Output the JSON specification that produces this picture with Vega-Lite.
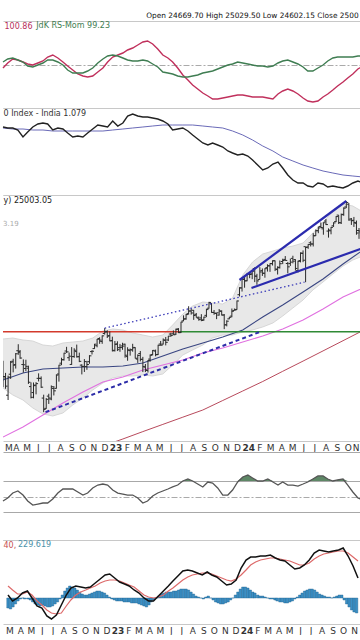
{
"$schema": "https://vega.github.io/schema/vega-lite/v6.json",
"padding": {"top": 11, "left": 0, "right": 0, "bottom": 0},
"spacing": 0,
"background": "white",
"config": {"view": {"stroke": null}, "font": "DejaVu Sans", "axis": {"minExtent": 0, "labelFont": "DejaVu Sans", "titleFont": "DejaVu Sans"}, "title": {"font": "DejaVu Sans"}},
"title": {"text": "Open 24669.70 High 25029.50 Low 24602.15 Close 2500", "anchor": "start", "dx": 146, "fontSize": 7.4, "fontWeight": "normal", "color": "#111", "offset": 2},
"resolve": {"scale": {"x": "independent", "y": "independent"}},
"datasets": {
"w": [
{"d":"2022-02-25","o":17339,"h":17351,"l":16203,"c":16658,"hi":-200},
{"d":"2022-03-04","o":16593,"h":16815,"l":16134,"c":16245,"hi":-220},
{"d":"2022-03-11","o":15867,"h":16694,"l":15671,"c":16630,"hi":-180},
{"d":"2022-03-18","o":16757,"h":17345,"l":16555,"c":17287,"hi":-120},
{"d":"2022-03-25","o":17330,"h":17442,"l":16837,"c":17153,"hi":-60},
{"d":"2022-04-01","o":17181,"h":17703,"l":17004,"c":17670,"hi":-20},
{"d":"2022-04-08","o":17810,"h":18114,"l":17624,"c":17784,"hi":0},
{"d":"2022-04-13","o":17741,"h":17842,"l":17442,"c":17476,"hi":-20},
{"d":"2022-04-22","o":17183,"h":17414,"l":16824,"c":17172,"hi":-20},
{"d":"2022-04-29","o":17009,"h":17400,"l":16889,"c":17103,"hi":-40},
{"d":"2022-05-06","o":17022,"h":17132,"l":16340,"c":16411,"hi":-80},
{"d":"2022-05-13","o":16227,"h":16404,"l":15735,"c":15782,"hi":-120},
{"d":"2022-05-20","o":15977,"h":16400,"l":15739,"c":16266,"hi":-140},
{"d":"2022-05-27","o":16290,"h":16415,"l":15903,"c":16352,"hi":-160},
{"d":"2022-06-03","o":16578,"h":16794,"l":16444,"c":16584,"hi":-140},
{"d":"2022-06-10","o":16570,"h":16661,"l":16172,"c":16202,"hi":-160},
{"d":"2022-06-17","o":15750,"h":15888,"l":15183,"c":15293,"hi":-180},
{"d":"2022-06-24","o":15334,"h":15749,"l":15315,"c":15699,"hi":-180},
{"d":"2022-07-01","o":15830,"h":15927,"l":15511,"c":15752,"hi":-160},
{"d":"2022-07-08","o":15710,"h":16275,"l":15661,"c":16221,"hi":-120},
{"d":"2022-07-15","o":16150,"h":16249,"l":15858,"c":16049,"hi":-80},
{"d":"2022-07-22","o":16152,"h":16752,"l":16142,"c":16719,"hi":-20},
{"d":"2022-07-29","o":16766,"h":17172,"l":16438,"c":17158,"hi":60},
{"d":"2022-08-05","o":17244,"h":17490,"l":17154,"c":17397,"hi":140},
{"d":"2022-08-12","o":17402,"h":17719,"l":17359,"c":17698,"hi":200},
{"d":"2022-08-19","o":17797,"h":17992,"l":17710,"c":17758,"hi":240},
{"d":"2022-08-26","o":17491,"h":17726,"l":17345,"c":17559,"hi":220},
{"d":"2022-09-02","o":17188,"h":17980,"l":17167,"c":17539,"hi":200},
{"d":"2022-09-09","o":17546,"h":17925,"l":17487,"c":17833,"hi":160},
{"d":"2022-09-16","o":17771,"h":18096,"l":17497,"c":17531,"hi":120},
{"d":"2022-09-23","o":17540,"h":17722,"l":17291,"c":17327,"hi":80},
{"d":"2022-09-30","o":17157,"h":17196,"l":16748,"c":17094,"hi":60},
{"d":"2022-10-07","o":17102,"h":17428,"l":16855,"c":17315,"hi":60},
{"d":"2022-10-14","o":17094,"h":17348,"l":16950,"c":17186,"hi":80},
{"d":"2022-10-21","o":17312,"h":17607,"l":17218,"c":17576,"hi":100},
{"d":"2022-10-28","o":17771,"h":17838,"l":17637,"c":17787,"hi":120},
{"d":"2022-11-04","o":17910,"h":18130,"l":17900,"c":18117,"hi":140},
{"d":"2022-11-11","o":18044,"h":18362,"l":17969,"c":18350,"hi":140},
{"d":"2022-11-18","o":18386,"h":18443,"l":18133,"c":18308,"hi":120},
{"d":"2022-11-25","o":18246,"h":18534,"l":18133,"c":18512,"hi":100},
{"d":"2022-12-02","o":18625,"h":18888,"l":18572,"c":18697,"hi":60},
{"d":"2022-12-09","o":18719,"h":18781,"l":18410,"c":18497,"hi":20},
{"d":"2022-12-16","o":18524,"h":18728,"l":18255,"c":18270,"hi":-20},
{"d":"2022-12-23","o":18288,"h":18473,"l":17779,"c":17807,"hi":-40},
{"d":"2022-12-30","o":17831,"h":18265,"l":17774,"c":18105,"hi":-60},
{"d":"2023-01-06","o":18131,"h":18252,"l":17796,"c":17859,"hi":-60},
{"d":"2023-01-13","o":17953,"h":18127,"l":17761,"c":17957,"hi":-60},
{"d":"2023-01-20","o":18033,"h":18183,"l":17853,"c":18027,"hi":-80},
{"d":"2023-01-27","o":18115,"h":18142,"l":17493,"c":17604,"hi":-80},
{"d":"2023-02-03","o":17541,"h":17972,"l":17353,"c":17854,"hi":-80},
{"d":"2023-02-10","o":17818,"h":17916,"l":17584,"c":17856,"hi":-100},
{"d":"2023-02-17","o":17848,"h":18134,"l":17765,"c":17944,"hi":-100},
{"d":"2023-02-24","o":17965,"h":17972,"l":17455,"c":17466,"hi":-100},
{"d":"2023-03-03","o":17428,"h":17644,"l":17255,"c":17594,"hi":-120},
{"d":"2023-03-10","o":17680,"h":17799,"l":17325,"c":17413,"hi":-140},
{"d":"2023-03-17","o":17421,"h":17529,"l":16850,"c":17100,"hi":-160},
{"d":"2023-03-24","o":17067,"h":17207,"l":16850,"c":16945,"hi":-180},
{"d":"2023-03-31","o":16919,"h":17381,"l":16828,"c":17360,"hi":-140},
{"d":"2023-04-06","o":17427,"h":17638,"l":17312,"c":17600,"hi":-80},
{"d":"2023-04-13","o":17634,"h":17843,"l":17597,"c":17828,"hi":-40},
{"d":"2023-04-21","o":17794,"h":17863,"l":17554,"c":17624,"hi":0},
{"d":"2023-04-28","o":17639,"h":18089,"l":17612,"c":18065,"hi":40},
{"d":"2023-05-05","o":18124,"h":18267,"l":18042,"c":18069,"hi":80},
{"d":"2023-05-12","o":18120,"h":18389,"l":18100,"c":18315,"hi":100},
{"d":"2023-05-19","o":18300,"h":18458,"l":18060,"c":18203,"hi":120},
{"d":"2023-05-26","o":18315,"h":18508,"l":18262,"c":18499,"hi":120},
{"d":"2023-06-02","o":18600,"h":18662,"l":18463,"c":18534,"hi":120},
{"d":"2023-06-09","o":18612,"h":18777,"l":18555,"c":18563,"hi":140},
{"d":"2023-06-16","o":18596,"h":18864,"l":18557,"c":18826,"hi":140},
{"d":"2023-06-23","o":18849,"h":18887,"l":18647,"c":18665,"hi":160},
{"d":"2023-06-30","o":18683,"h":19201,"l":18647,"c":19189,"hi":180},
{"d":"2023-07-07","o":19246,"h":19524,"l":19231,"c":19332,"hi":180},
{"d":"2023-07-14","o":19355,"h":19596,"l":19300,"c":19564,"hi":180},
{"d":"2023-07-21","o":19613,"h":19992,"l":19563,"c":19745,"hi":160},
{"d":"2023-07-28","o":19748,"h":19868,"l":19563,"c":19646,"hi":120},
{"d":"2023-08-04","o":19784,"h":19796,"l":19296,"c":19517,"hi":80},
{"d":"2023-08-11","o":19576,"h":19646,"l":19413,"c":19428,"hi":40},
{"d":"2023-08-18","o":19384,"h":19466,"l":19254,"c":19310,"hi":20},
{"d":"2023-08-25","o":19394,"h":19585,"l":19230,"c":19266,"hi":0},
{"d":"2023-09-01","o":19299,"h":19458,"l":19255,"c":19435,"hi":-20},
{"d":"2023-09-08","o":19525,"h":19867,"l":19433,"c":19820,"hi":20},
{"d":"2023-09-15","o":19890,"h":20222,"l":19866,"c":20192,"hi":40},
{"d":"2023-09-22","o":20120,"h":20156,"l":19657,"c":19674,"hi":0},
{"d":"2023-09-29","o":19674,"h":19798,"l":19554,"c":19638,"hi":-40},
{"d":"2023-10-06","o":19622,"h":19661,"l":19333,"c":19654,"hi":-80},
{"d":"2023-10-13","o":19539,"h":19849,"l":19513,"c":19751,"hi":-100},
{"d":"2023-10-20","o":19731,"h":19781,"l":19518,"c":19542,"hi":-120},
{"d":"2023-10-27","o":19542,"h":19593,"l":18838,"c":19047,"hi":-120},
{"d":"2023-11-03","o":19053,"h":19276,"l":18974,"c":19231,"hi":-100},
{"d":"2023-11-10","o":19347,"h":19451,"l":19329,"c":19425,"hi":-80},
{"d":"2023-11-17","o":19486,"h":19875,"l":19430,"c":19732,"hi":-40},
{"d":"2023-11-24","o":19770,"h":19876,"l":19768,"c":19795,"hi":0},
{"d":"2023-12-01","o":19828,"h":20292,"l":19810,"c":20268,"hi":60},
{"d":"2023-12-08","o":20601,"h":21006,"l":20508,"c":20970,"hi":120},
{"d":"2023-12-15","o":20965,"h":21493,"l":20770,"c":21457,"hi":180},
{"d":"2023-12-22","o":21434,"h":21593,"l":20977,"c":21349,"hi":220},
{"d":"2023-12-29","o":21365,"h":21801,"l":21330,"c":21731,"hi":220},
{"d":"2024-01-05","o":21727,"h":21834,"l":21501,"c":21711,"hi":200},
{"d":"2024-01-12","o":21748,"h":21928,"l":21449,"c":21895,"hi":160},
{"d":"2024-01-19","o":22053,"h":22124,"l":21286,"c":21622,"hi":120},
{"d":"2024-01-25","o":21615,"h":21750,"l":21137,"c":21353,"hi":100},
{"d":"2024-02-02","o":21433,"h":22127,"l":21429,"c":21854,"hi":60},
{"d":"2024-02-09","o":21930,"h":22054,"l":21630,"c":21783,"hi":40},
{"d":"2024-02-16","o":21780,"h":22069,"l":21530,"c":22041,"hi":40},
{"d":"2024-02-23","o":22103,"h":22297,"l":21875,"c":22213,"hi":20},
{"d":"2024-03-01","o":22200,"h":22353,"l":21861,"c":22339,"hi":0},
{"d":"2024-03-08","o":22326,"h":22526,"l":22224,"c":22494,"hi":-20},
{"d":"2024-03-15","o":22500,"h":22516,"l":21905,"c":22023,"hi":-20},
{"d":"2024-03-22","o":21990,"h":22180,"l":21710,"c":22097,"hi":-40},
{"d":"2024-03-28","o":22122,"h":22516,"l":22048,"c":22327,"hi":-60},
{"d":"2024-04-05","o":22455,"h":22619,"l":22304,"c":22514,"hi":-80},
{"d":"2024-04-12","o":22578,"h":22776,"l":22503,"c":22519,"hi":-80},
{"d":"2024-04-19","o":22339,"h":22428,"l":21777,"c":22147,"hi":-100},
{"d":"2024-04-26","o":22336,"h":22625,"l":22198,"c":22420,"hi":-100},
{"d":"2024-05-03","o":22640,"h":22794,"l":22349,"c":22476,"hi":-80},
{"d":"2024-05-10","o":22570,"h":22588,"l":21932,"c":22055,"hi":-60},
{"d":"2024-05-17","o":21931,"h":22502,"l":21822,"c":22466,"hi":-20},
{"d":"2024-05-24","o":22512,"h":22994,"l":22404,"c":22957,"hi":20},
{"d":"2024-05-31","o":22933,"h":23111,"l":22418,"c":22531,"hi":60},
{"d":"2024-06-07","o":23338,"h":23339,"l":21281,"c":23290,"hi":100},
{"d":"2024-06-14","o":23320,"h":23490,"l":23207,"c":23466,"hi":140},
{"d":"2024-06-21","o":23574,"h":23667,"l":23351,"c":23501,"hi":160},
{"d":"2024-06-28","o":23501,"h":24174,"l":23350,"c":24011,"hi":180},
{"d":"2024-07-05","o":24010,"h":24401,"l":23992,"c":24324,"hi":180},
{"d":"2024-07-12","o":24329,"h":24592,"l":24168,"c":24502,"hi":160},
{"d":"2024-07-19","o":24587,"h":24854,"l":24508,"c":24531,"hi":120},
{"d":"2024-07-26","o":24445,"h":24861,"l":24074,"c":24835,"hi":80},
{"d":"2024-08-02","o":24943,"h":25078,"l":24686,"c":24718,"hi":60},
{"d":"2024-08-09","o":24303,"h":24473,"l":23894,"c":24368,"hi":40},
{"d":"2024-08-16","o":24320,"h":24564,"l":24100,"c":24541,"hi":20},
{"d":"2024-08-23","o":24636,"h":24868,"l":24564,"c":24823,"hi":20},
{"d":"2024-08-30","o":24907,"h":25268,"l":24874,"c":25236,"hi":0},
{"d":"2024-09-06","o":25333,"h":25333,"l":24753,"c":24852,"hi":20},
{"d":"2024-09-13","o":24823,"h":25434,"l":24753,"c":25357,"hi":40},
{"d":"2024-09-20","o":25384,"h":25850,"l":25286,"c":25791,"hi":60},
{"d":"2024-09-27","o":25872,"h":26277,"l":25794,"c":26179,"hi":60},
{"d":"2024-10-04","o":26061,"h":26135,"l":24966,"c":25015,"hi":-40},
{"d":"2024-10-11","o":25085,"h":25143,"l":24694,"c":24964,"hi":-120},
{"d":"2024-10-18","o":24992,"h":25212,"l":24567,"c":24854,"hi":-180},
{"d":"2024-10-25","o":24798,"h":24978,"l":24073,"c":24181,"hi":-240},
{"d":"2024-11-01","o":24339,"h":24498,"l":23817,"c":24304,"hi":-280},
{"d":"2024-11-08","o":24200,"h":24538,"l":23996,"c":24148,"hi":-300}
],
"ind": [
{"d":"2022-02-25","rs":99.7,"mo":100.3,"ra":1.304,"rm":1.3,"rsi":44.2,"m":60,"s":240,"bu":18362,"bl":16167,"m1":16507,"m2":14235},
{"d":"2022-03-10","rs":100.2,"mo":100.6,"ra":1.3,"rsi":48.1,"m":-60,"s":160},
{"d":"2022-03-24","rs":100.6,"mo":100.7,"ra":1.3,"rm":1.296,"rsi":54.5,"m":0,"s":80,"bu":18409,"bl":15876},
{"d":"2022-04-07","rs":100.5,"mo":100.5,"ra":1.292,"rsi":57.1,"m":100,"s":80},
{"d":"2022-04-21","rs":100.3,"mo":100.3,"ra":1.264,"rm":1.296,"rsi":51.9,"m":140,"s":120,"bu":18314,"bl":15671,"m1":16810,"m2":14610},
{"d":"2022-05-04","rs":100.1,"mo":99.9,"ra":1.284,"rsi":44.2,"m":0,"s":60},
{"d":"2022-05-18","rs":100,"mo":99.8,"ra":1.304,"rm":1.292,"rsi":39,"m":-160,"s":-60,"bu":18267,"bl":15349},
{"d":"2022-06-01","rs":100.2,"mo":100,"ra":1.316,"rsi":40.3,"m":-200,"s":-140},
{"d":"2022-06-15","rs":100.4,"mo":100.2,"ra":1.32,"rm":1.292,"rsi":41.6,"m":-360,"s":-240,"bu":18077,"bl":15112,"m1":16985,"m2":15072},
{"d":"2022-06-28","rs":100.8,"mo":100.5,"ra":1.316,"rsi":41.6,"m":-420,"s":-300},
{"d":"2022-07-12","rs":101,"mo":100.5,"ra":1.292,"rm":1.288,"rsi":46.8,"m":-340,"s":-320,"bu":18030,"bl":15033},
{"d":"2022-07-26","rs":100.7,"mo":100.3,"ra":1.3,"rsi":54.5,"m":-140,"s":-300},
{"d":"2022-08-09","rs":100.3,"mo":100,"ra":1.296,"rm":1.288,"rsi":59.7,"m":60,"s":-160,"bu":18172,"bl":15151,"m1":17030,"m2":15550},
{"d":"2022-08-22","rs":99.9,"mo":99.5,"ra":1.28,"rsi":59.7,"m":200,"s":-40},
{"d":"2022-09-05","rs":99.5,"mo":99.2,"ra":1.264,"rm":1.288,"rsi":59.7,"m":240,"s":60,"bu":18219,"bl":15469},
{"d":"2022-09-19","rs":99.1,"mo":99.2,"ra":1.268,"rsi":55.8,"m":220,"s":120},
{"d":"2022-10-03","rs":98.9,"mo":99.2,"ra":1.264,"rm":1.288,"rsi":51.9,"m":200,"s":160,"bu":18267,"bl":15753,"m1":17074,"m2":16000},
{"d":"2022-10-16","rs":98.8,"mo":99.4,"ra":1.28,"rsi":54.5,"m":220,"s":200},
{"d":"2022-10-30","rs":98.9,"mo":99.7,"ra":1.296,"rm":1.288,"rsi":61,"m":300,"s":240,"bu":18409,"bl":16083},
{"d":"2022-11-13","rs":99.3,"mo":100.2,"ra":1.312,"rsi":64.8,"m":380,"s":300},
{"d":"2022-11-27","rs":99.7,"mo":100.6,"ra":1.308,"rm":1.288,"rsi":66.1,"m":460,"s":340,"bu":18747,"bl":16379,"m1":17074,"m2":16422,"m3":13906},
{"d":"2022-12-10","rs":100.3,"mo":100.9,"ra":1.304,"rsi":64.8,"m":480,"s":360},
{"d":"2022-12-24","rs":100.8,"mo":101,"ra":1.328,"rm":1.292,"rsi":58.4,"m":400,"s":360,"bu":18845,"bl":16593},
{"d":"2023-01-07","rs":101,"mo":100.9,"ra":1.308,"rsi":54.5,"m":320,"s":340},
{"d":"2023-01-21","rs":101.2,"mo":100.7,"ra":1.32,"rm":1.296,"rsi":53.2,"m":280,"s":300,"bu":18796,"bl":16679,"m1":17119,"m2":16636,"m3":14162},
{"d":"2023-02-03","rs":101.5,"mo":100.5,"ra":1.348,"rsi":51.9,"m":240,"s":260},
{"d":"2023-02-17","rs":101.7,"mo":100.4,"ra":1.356,"rm":1.3,"rsi":51.9,"m":160,"s":220,"bu":18650,"bl":16679},
{"d":"2023-03-03","rs":102,"mo":100.4,"ra":1.348,"rsi":48.1,"m":100,"s":140},
{"d":"2023-03-17","rs":102.3,"mo":100.5,"ra":1.344,"rm":1.304,"rsi":41.6,"m":0,"s":60,"bu":18553,"bl":16722,"m1":17253,"m2":16941,"m3":14436},
{"d":"2023-03-30","rs":102.4,"mo":100.4,"ra":1.344,"rsi":44.2,"m":-60,"s":20},
{"d":"2023-04-13","rs":102.1,"mo":100.1,"ra":1.34,"rm":1.308,"rsi":50.6,"m":-60,"s":0,"bu":18457,"bl":16679},
{"d":"2023-04-27","rs":101.6,"mo":99.8,"ra":1.336,"rsi":54.5,"m":40,"s":20},
{"d":"2023-05-11","rs":101,"mo":99.3,"ra":1.328,"rm":1.312,"rsi":57.1,"m":140,"s":60,"bu":18553,"bl":16766,"m1":17568,"m2":17163,"m3":14709},
{"d":"2023-05-25","rs":100.7,"mo":99.2,"ra":1.316,"rsi":59.7,"m":240,"s":140},
{"d":"2023-06-07","rs":100.3,"mo":99.1,"ra":1.292,"rm":1.312,"rsi":62.3,"m":340,"s":200,"bu":19041,"bl":17163},
{"d":"2023-06-21","rs":99.7,"mo":98.9,"ra":1.296,"rsi":64.8,"m":440,"s":280},
{"d":"2023-07-05","rs":99,"mo":98.8,"ra":1.3,"rm":1.312,"rsi":70,"m":540,"s":360,"bu":19593,"bl":17614,"m1":17891,"m2":17387,"m3":14987},
{"d":"2023-07-19","rs":98.5,"mo":98.8,"ra":1.288,"rsi":72.6,"m":560,"s":420},
{"d":"2023-08-01","rs":98,"mo":98.9,"ra":1.272,"rm":1.312,"rsi":70,"m":540,"s":460,"bu":20005,"bl":17844},
{"d":"2023-08-15","rs":97.6,"mo":99,"ra":1.256,"rsi":66.1,"m":500,"s":480},
{"d":"2023-08-29","rs":97.2,"mo":99.2,"ra":1.24,"rm":1.308,"rsi":62.3,"m":460,"s":500,"bu":20214,"bl":18077,"m1":18172,"m2":17706,"m3":15269},
{"d":"2023-09-12","rs":96.9,"mo":99.3,"ra":1.232,"rsi":68.7,"m":520,"s":500},
{"d":"2023-09-25","rs":96.6,"mo":99.4,"ra":1.24,"rm":1.304,"rsi":67.4,"m":460,"s":480,"bu":20162,"bl":18409},
{"d":"2023-10-09","rs":96.6,"mo":99.6,"ra":1.232,"rsi":61,"m":420,"s":440},
{"d":"2023-10-23","rs":96.7,"mo":99.8,"ra":1.224,"rm":1.3,"rsi":51.9,"m":340,"s":400,"bu":20110,"bl":18553,"m1":18457,"m2":17937,"m3":15651},
{"d":"2023-11-06","rs":96.8,"mo":100,"ra":1.208,"rsi":51.9,"m":260,"s":360},
{"d":"2023-11-19","rs":96.9,"mo":100.1,"ra":1.2,"rm":1.288,"rsi":58.4,"m":280,"s":340,"bu":20425,"bl":18553},
{"d":"2023-12-03","rs":97,"mo":100.3,"ra":1.192,"rsi":68.7,"m":360,"s":380},
{"d":"2023-12-17","rs":97,"mo":100.2,"ra":1.196,"rm":1.272,"rsi":75.2,"m":600,"s":460,"bu":21682,"bl":18699,"m1":18796,"m2":18219,"m3":16042},
{"d":"2023-12-31","rs":96.9,"mo":100.1,"ra":1.188,"rsi":77.7,"m":760,"s":560},
{"d":"2024-01-13","rs":96.8,"mo":100,"ra":1.172,"rm":1.252,"rsi":73.9,"m":820,"s":660,"bu":22428,"bl":18796},
{"d":"2024-01-27","rs":96.8,"mo":99.9,"ra":1.152,"rsi":70,"m":820,"s":720},
{"d":"2024-02-10","rs":96.8,"mo":99.9,"ra":1.132,"rm":1.228,"rsi":70,"m":840,"s":760,"bu":22898,"bl":18943,"m1":19441,"m2":18505,"m3":16443},
{"d":"2024-02-24","rs":96.7,"mo":99.8,"ra":1.14,"rsi":72.6,"m":840,"s":780},
{"d":"2024-03-09","rs":96.6,"mo":99.9,"ra":1.156,"rm":1.208,"rsi":68.7,"m":860,"s":800,"bu":23077,"bl":19141},
{"d":"2024-03-23","rs":97.1,"mo":100.2,"ra":1.164,"rsi":64.8,"m":800,"s":800},
{"d":"2024-04-05","rs":97.4,"mo":100.4,"ra":1.14,"rm":1.184,"rsi":68.7,"m":760,"s":780,"bu":23257,"bl":19492,"m1":20057,"m2":18845,"m3":16884},
{"d":"2024-04-19","rs":97.6,"mo":100.5,"ra":1.112,"rsi":64.8,"m":740,"s":760},
{"d":"2024-05-03","rs":97.4,"mo":100.3,"ra":1.092,"rm":1.168,"rsi":64.8,"m":660,"s":740,"bu":23378,"bl":19902},
{"d":"2024-05-17","rs":97.1,"mo":100.1,"ra":1.08,"rsi":63.5,"m":580,"s":700},
{"d":"2024-05-31","rs":96.7,"mo":99.8,"ra":1.08,"rm":1.152,"rsi":66.1,"m":600,"s":660,"bu":23561,"bl":20319,"m1":20746,"m2":19290,"m3":17338},
{"d":"2024-06-13","rs":96.4,"mo":99.4,"ra":1.068,"rsi":68.7,"m":660,"s":660},
{"d":"2024-06-27","rs":96.3,"mo":99.4,"ra":1.064,"rm":1.14,"rsi":72.6,"m":760,"s":700,"bu":24182,"bl":20854},
{"d":"2024-07-11","rs":96.4,"mo":99.7,"ra":1.08,"rsi":76.5,"m":900,"s":780},
{"d":"2024-07-25","rs":96.8,"mo":100,"ra":1.076,"rm":1.128,"rsi":76.5,"m":960,"s":840,"bu":24883,"bl":21292,"m1":21458,"m2":19849,"m3":17803},
{"d":"2024-08-07","rs":97.1,"mo":100.4,"ra":1.064,"rsi":72.6,"m":940,"s":880},
{"d":"2024-08-21","rs":97.5,"mo":100.7,"ra":1.068,"rm":1.12,"rsi":70,"m":920,"s":900,"bu":25538,"bl":21739},
{"d":"2024-09-03","rs":97.9,"mo":100.8,"ra":1.064,"rsi":71.3,"m":940,"s":920},
{"d":"2024-09-18","rs":98.3,"mo":100.8,"ra":1.06,"rm":1.112,"rsi":72.6,"m":960,"s":940,"bu":26072,"bl":22196,"m1":22310,"m2":20479,"m3":18281},
{"d":"2024-10-01","rs":98.7,"mo":100.8,"ra":1.068,"rsi":64.8,"m":1000,"s":940},
{"d":"2024-10-15","rs":99.1,"mo":100.8,"ra":1.08,"rm":1.108,"rsi":55.8,"m":840,"s":900,"bu":25938,"bl":22544},
{"d":"2024-10-29","rs":99.6,"mo":100.9,"ra":1.088,"rsi":48.1,"m":640,"s":820},
{"d":"2024-11-12","rs":99.9,"mo":100.9,"ra":1.08,"rm":1.104,"rsi":45.5,"m":400,"s":740,"bu":25538,"bl":22779,"m1":23137,"m2":20963,"m3":18772}
],
"tl": [
{"k":"red","d":"2022-02-25","p1":18710,"d2":"2023-06-27","p2":18710},
{"k":"green","d":"2023-06-27","p1":18710,"d2":"2024-11-12","p2":18710},
{"k":"dot","d":"2022-12-02","p1":18888,"d2":"2024-06-04","p2":21281},
{"k":"dash","d":"2022-06-22","p1":15183,"d2":"2024-02-02","p2":18699},
{"k":"chan","d":"2023-12-08","p1":21402,"d2":"2024-09-27","p2":26277},
{"k":"chan","d":"2024-01-10","p1":20962,"d2":"2024-11-12","p2":23257}
]
},
"vconcat": [
{
"width": 360, "height": 87,
"data": {"name": "ind"},
"title": {"text": "JdK RS-Mom 99.23", "anchor": "start", "dx": 36, "offset": -9, "fontSize": 8, "fontWeight": "normal", "color": "#3f7d52"},
"encoding": {"x": {"field": "d", "type": "temporal", "scale": {"type": "utc", "domain": [{"year":2022,"month":2,"date":25,"utc":true},{"year":2024,"month":11,"date":12,"utc":true}]}, "axis": null}},
"resolve": {"scale": {"y": "independent"}},
"layer": [
{"mark": {"type": "line", "color": "#c0305c", "strokeWidth": 1.4}, "encoding": {"y": {"field": "rs", "type": "quantitative", "scale": {"domain": [95.7, 104.4]}, "axis": {"values": [95.7, 100, 104.4], "grid": true, "gridColor": {"condition": {"test": "datum.value == 100", "value": "#aaaaaa"}, "value": "#c8c8c8"}, "gridDash": {"condition": {"test": "datum.value == 100", "value": [6, 2, 2, 2]}, "value": []}, "labels": false, "ticks": false, "domain": false, "title": "100.86", "titleAngle": 0, "titleX": 1, "titleY": 5, "titleAlign": "left", "titleBaseline": "middle", "titleFontSize": 8, "titleFontWeight": "normal", "titleColor": "#b8305a"}}}},
{"mark": {"type": "line", "color": "#3f7d52", "strokeWidth": 1.4}, "encoding": {"y": {"field": "mo", "type": "quantitative", "scale": {"domain": [95.7, 104.4]}, "axis": null}}}
]
},
{
"width": 360, "height": 87,
"data": {"name": "ind"},
"encoding": {"x": {"field": "d", "type": "temporal", "scale": {"type": "utc", "domain": [{"year":2022,"month":2,"date":25,"utc":true},{"year":2024,"month":11,"date":12,"utc":true}]}, "axis": null}},
"resolve": {"scale": {"y": "independent"}},
"layer": [
{"transform": [{"filter": "isValid(datum.rm)"}], "mark": {"type": "line", "color": "#6a6ab8", "strokeWidth": 1}, "encoding": {"y": {"field": "rm", "type": "quantitative", "scale": {"domain": [1.032, 1.38]}, "axis": {"values": [1.032, 1.38], "grid": true, "gridColor": "#c8c8c8", "labels": false, "ticks": false, "domain": false, "title": "0 Index - India 1.079", "titleAngle": 0, "titleX": 0, "titleY": 5, "titleAlign": "left", "titleBaseline": "middle", "titleFontSize": 8, "titleFontWeight": "normal", "titleColor": "#333"}}}},
{"mark": {"type": "line", "color": "#222", "strokeWidth": 1.4}, "encoding": {"y": {"field": "ra", "type": "quantitative", "scale": {"domain": [1.032, 1.38]}, "axis": null}}}
]
},
{
"width": 360, "height": 246,
"title": {"text": "3.19", "anchor": "start", "offset": -32, "fontSize": 7, "fontWeight": "normal", "color": "#aaaaaa"},
"encoding": {"x": {"field": "d", "type": "temporal", "scale": {"type": "utc", "domain": [{"year":2022,"month":2,"date":25,"utc":true},{"year":2024,"month":11,"date":12,"utc":true}]}, "axis": {"orient": "bottom", "ticks": false, "domain": false, "grid": false, "labelPadding": 2, "labelFontSize": 9, "labelColor": "#333", "labelOverlap": false, "labelBound": false, "labelFlush": 5, "title": null, "tickCount": {"interval": "month", "step": 1}, "labelExpr": "utcFormat(datum.value, '%m') == '01' ? utcFormat(datum.value, '%y') : slice(utcFormat(datum.value, '%b'), 0, 1)", "labelFontWeight": {"condition": {"test": "utcFormat(datum.value, '%m') == '01'", "value": "bold"}, "value": "normal"}}}},
"resolve": {"scale": {"y": "independent"}},
"layer": [
{"data": {"name": "ind"}, "transform": [{"filter": "isValid(datum.bu)"}], "mark": {"type": "area", "color": "#e8e8e8", "clip": true}, "encoding": {"y": {"field": "bl", "type": "quantitative", "scale": {"type": "log", "domain": [14088, 26690]}, "axis": {"values": [14088, 26690], "grid": true, "gridColor": "#c8c8c8", "labels": false, "ticks": false, "domain": false, "title": "y) 25003.05", "titleAngle": 0, "titleX": 0, "titleY": 5, "titleAlign": "left", "titleBaseline": "middle", "titleFontSize": 8, "titleFontWeight": "normal", "titleColor": "#222"}}, "y2": {"field": "bu"}}},
{"data": {"name": "ind"}, "transform": [{"filter": "isValid(datum.bu)"}], "mark": {"type": "line", "color": "#cfcfcf", "strokeWidth": 0.8, "clip": true}, "encoding": {"y": {"field": "bu", "type": "quantitative", "scale": {"type": "log", "domain": [14088, 26690]}, "axis": null}}},
{"data": {"name": "ind"}, "transform": [{"filter": "isValid(datum.bl)"}], "mark": {"type": "line", "color": "#cfcfcf", "strokeWidth": 0.8, "clip": true}, "encoding": {"y": {"field": "bl", "type": "quantitative", "scale": {"type": "log", "domain": [14088, 26690]}, "axis": null}}},
{"data": {"name": "ind"}, "transform": [{"filter": "isValid(datum.m3)"}], "mark": {"type": "line", "color": "#b84a5c", "strokeWidth": 1, "clip": true}, "encoding": {"y": {"field": "m3", "type": "quantitative", "scale": {"type": "log", "domain": [14088, 26690]}, "axis": null}}},
{"data": {"name": "ind"}, "transform": [{"filter": "isValid(datum.m2)"}], "mark": {"type": "line", "color": "#e070e0", "strokeWidth": 1.1, "clip": true}, "encoding": {"y": {"field": "m2", "type": "quantitative", "scale": {"type": "log", "domain": [14088, 26690]}, "axis": null}}},
{"data": {"name": "ind"}, "transform": [{"filter": "isValid(datum.m1)"}], "mark": {"type": "line", "color": "#3a4682", "strokeWidth": 1.1, "clip": true}, "encoding": {"y": {"field": "m1", "type": "quantitative", "scale": {"type": "log", "domain": [14088, 26690]}, "axis": null}}},
{"data": {"name": "tl"}, "transform": [{"filter": "datum.k == 'red'"}], "mark": {"type": "rule", "color": "#d33a2c", "strokeWidth": 1.6, "clip": true}, "encoding": {"x2": {"field": "d2"}, "y": {"field": "p1", "type": "quantitative", "scale": {"type": "log", "domain": [14088, 26690]}, "axis": null}, "y2": {"field": "p2"}}},
{"data": {"name": "tl"}, "transform": [{"filter": "datum.k == 'green'"}], "mark": {"type": "rule", "color": "#2f8a35", "strokeWidth": 1.6, "clip": true}, "encoding": {"x2": {"field": "d2"}, "y": {"field": "p1", "type": "quantitative", "scale": {"type": "log", "domain": [14088, 26690]}, "axis": null}, "y2": {"field": "p2"}}},
{"data": {"name": "w"}, "mark": {"type": "rule", "color": "#2a2a2a", "strokeWidth": 1, "clip": true}, "encoding": {"y": {"field": "l", "type": "quantitative", "scale": {"type": "log", "domain": [14088, 26690]}, "axis": null}, "y2": {"field": "h"}}},
{"data": {"name": "w"}, "mark": {"type": "tick", "orient": "horizontal", "size": 2, "thickness": 1, "xOffset": -1, "color": "#2a2a2a", "opacity": 1, "clip": true}, "encoding": {"y": {"field": "o", "type": "quantitative", "scale": {"type": "log", "domain": [14088, 26690]}, "axis": null}}},
{"data": {"name": "w"}, "mark": {"type": "tick", "orient": "horizontal", "size": 2, "thickness": 1, "xOffset": 1, "color": "#2a2a2a", "opacity": 1, "clip": true}, "encoding": {"y": {"field": "c", "type": "quantitative", "scale": {"type": "log", "domain": [14088, 26690]}, "axis": null}}},
{"data": {"name": "tl"}, "transform": [{"filter": "datum.k == 'dot'"}], "mark": {"type": "rule", "color": "#3a3ab8", "strokeWidth": 1.3, "strokeDash": [1.5, 2.5], "clip": true}, "encoding": {"x2": {"field": "d2"}, "y": {"field": "p1", "type": "quantitative", "scale": {"type": "log", "domain": [14088, 26690]}, "axis": null}, "y2": {"field": "p2"}}},
{"data": {"name": "tl"}, "transform": [{"filter": "datum.k == 'dash'"}], "mark": {"type": "rule", "color": "#2d2da8", "strokeWidth": 2, "strokeDash": [4, 3], "clip": true}, "encoding": {"x2": {"field": "d2"}, "y": {"field": "p1", "type": "quantitative", "scale": {"type": "log", "domain": [14088, 26690]}, "axis": null}, "y2": {"field": "p2"}}},
{"data": {"name": "tl"}, "transform": [{"filter": "datum.k == 'chan'"}], "mark": {"type": "rule", "color": "#2b2bae", "strokeWidth": 2.2, "clip": true}, "encoding": {"x2": {"field": "d2"}, "y": {"field": "p1", "type": "quantitative", "scale": {"type": "log", "domain": [14088, 26690]}, "axis": null}, "y2": {"field": "p2"}}}
]
},
{
"width": 360, "height": 88,
"data": {"name": "ind"},
"encoding": {"x": {"field": "d", "type": "temporal", "scale": {"type": "utc", "domain": [{"year":2022,"month":2,"date":25,"utc":true},{"year":2024,"month":11,"date":12,"utc":true}]}, "axis": null}},
"layer": [
{"mark": {"type": "area", "color": "#4d7a55", "opacity": 0.9}, "encoding": {"y": {"field": "rsi", "type": "quantitative", "scale": {"domain": [70, 107.4], "range": [29, 0], "clamp": true}, "axis": null}, "y2": {"datum": 70}}},
{"mark": {"type": "line", "color": "#555", "strokeWidth": 1.3}, "encoding": {"y": {"field": "rsi", "type": "quantitative", "scale": {"domain": [-6.1, 107.4]}, "axis": {"values": [-6.1, 30, 50, 70, 107.4], "grid": true, "gridColor": {"condition": {"test": "datum.value == 50", "value": "#aaaaaa"}, "value": "#a8a8a8"}, "gridDash": {"condition": {"test": "datum.value == 50", "value": [6, 2, 2, 2]}, "value": []}, "labels": false, "ticks": false, "domain": false, "title": null}}}}
],
"resolve": {"scale": {"y": "independent"}}
},
{
"width": 360, "height": 84,
"title": {"text": "229.619", "anchor": "start", "dx": 15, "offset": -9, "fontSize": 8, "fontWeight": "normal", "color": "#4a90a8"},
"encoding": {"x": {"field": "d", "type": "temporal", "scale": {"type": "utc", "domain": [{"year":2022,"month":2,"date":25,"utc":true},{"year":2024,"month":11,"date":12,"utc":true}]}, "axis": {"orient": "bottom", "ticks": false, "domain": false, "grid": false, "labelPadding": 2, "labelFontSize": 9, "labelColor": "#333", "labelOverlap": false, "labelBound": false, "labelFlush": 5, "title": null, "tickCount": {"interval": "month", "step": 1}, "labelExpr": "utcFormat(datum.value, '%m') == '01' ? utcFormat(datum.value, '%y') : slice(utcFormat(datum.value, '%b'), 0, 1)", "labelFontWeight": {"condition": {"test": "utcFormat(datum.value, '%m') == '01'", "value": "bold"}, "value": "normal"}}}},
"resolve": {"scale": {"y": "independent"}},
"layer": [
{"data": {"name": "w"}, "mark": {"type": "bar", "width": 2.5, "color": "#3a8fc5", "stroke": "#22628e", "strokeWidth": 0.4, "clip": true}, "encoding": {"y": {"field": "hi", "type": "quantitative", "scale": {"domain": [-520, 1160]}, "axis": {"values": [-520, 1160], "grid": true, "gridColor": "#c8c8c8", "labels": false, "ticks": false, "domain": false, "title": "40,", "titleAngle": 0, "titleX": 0, "titleY": 5, "titleAlign": "left", "titleBaseline": "middle", "titleFontSize": 8, "titleFontWeight": "normal", "titleColor": "#c85050"}}, "y2": {"datum": 0}}},
{"data": {"name": "ind"}, "mark": {"type": "line", "color": "#dd6a6a", "strokeWidth": 1.2}, "encoding": {"y": {"field": "s", "type": "quantitative", "scale": {"domain": [-520, 1160]}, "axis": null}}},
{"data": {"name": "ind"}, "mark": {"type": "line", "color": "#111", "strokeWidth": 1.5}, "encoding": {"y": {"field": "m", "type": "quantitative", "scale": {"domain": [-520, 1160]}, "axis": null}}}
]
}
]
}
